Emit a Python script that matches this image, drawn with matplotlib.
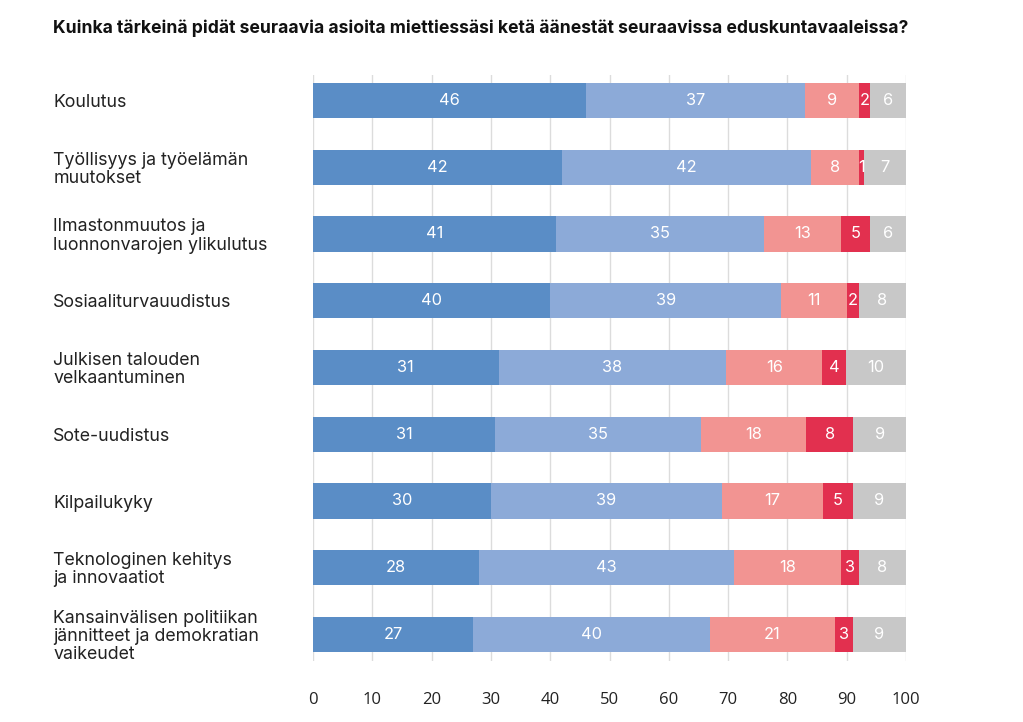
import matplotlib
matplotlib.use("Agg")
import matplotlib.pyplot as plt
import numpy as np

title = "Kuinka tärkeinä pidät seuraavia asioita miettiessäsi ketä äänestät seuraavissa eduskuntavaaleissa?"
categories = [
    "Koulutus",
    "Työllisyys ja työelämän\nmuutokset",
    "Ilmastonmuutos ja\nluonnonvarojen ylikulutus",
    "Sosiaaliturvauudistus",
    "Julkisen talouden\nvelkaantuminen",
    "Sote-uudistus",
    "Kilpailukyky",
    "Teknologinen kehitys\nja innovaatiot",
    "Kansainvälisen politiikan\njännitteet ja demokratian\nvaikeudet",
]
very_important = [46, 42, 41, 40, 31, 31, 30, 28, 27]
fairly_important = [37, 42, 35, 39, 38, 35, 39, 43, 40]
not_very_important = [9, 8, 13, 11, 16, 18, 17, 18, 21]
not_important = [2, 1, 5, 2, 4, 8, 5, 3, 3]
dont_know = [6, 7, 6, 8, 10, 9, 9, 8, 9]
x_ticks = [0, 10, 20, 30, 40, 50, 60, 70, 80, 90, 100]

series = [very_important, fairly_important, not_very_important, not_important, dont_know]
colors = ["#5a8dc6", "#8caad8", "#f29492", "#e2304f", "#c8c8c8"]

W, H = 1023, 722
fig = plt.figure(figsize=(W / 100, H / 100), dpi=100)
ax_left, ax_right = 313 / W, 906 / W
ax_top, ax_bottom = 1 - 75 / H, 1 - 661 / H
ax = fig.add_axes([ax_left, ax_bottom, ax_right - ax_left, ax_top - ax_bottom])

data = np.array(series, dtype=float)
totals = data.sum(axis=0)
widths = data / totals * 100
y = np.arange(len(categories))
left = np.zeros(len(categories))
font = "Inter"
for vals, w, c in zip(series, widths, colors):
    ax.barh(y, w, left=left, height=0.525, color=c, zorder=2)
    for i in range(len(y)):
        ax.text(left[i] + w[i] / 2, y[i], str(vals[i]), ha="center", va="center",
                color="white", fontsize=11.8, family=font, zorder=3)
    left += w

ax.set_xlim(0, 100)
ax.set_ylim(len(categories) - 1 + 0.397, -0.382)
ax.set_xticks(x_ticks)
ax.set_xticklabels([str(t) for t in x_ticks])
for lbl in ax.get_xticklabels():
    lbl.set_fontfamily("Open Sans")
    lbl.set_fontsize(12)
    lbl.set_color("#222222")
ax.tick_params(axis="x", length=0, pad=22)
ax.set_yticks([])
ax.grid(axis="x", color="#dcdcdc", linewidth=1, zorder=0)
for s in ax.spines.values():
    s.set_visible(False)

for i, cat in enumerate(categories):
    ax.text(-0.438, y[i] + 0.03, cat, transform=ax.get_yaxis_transform(), ha="left", va="center",
            fontsize=12.8, family=font, color="#222222", linespacing=1.1)

fig.text(53 / W, 1 - 28 / H, title, ha="left", va="center", fontsize=12.65,
         family=["Inter", "DejaVu Sans"], fontweight="bold", color="#111111")

fig.savefig("out.png", dpi=100, facecolor="white")
